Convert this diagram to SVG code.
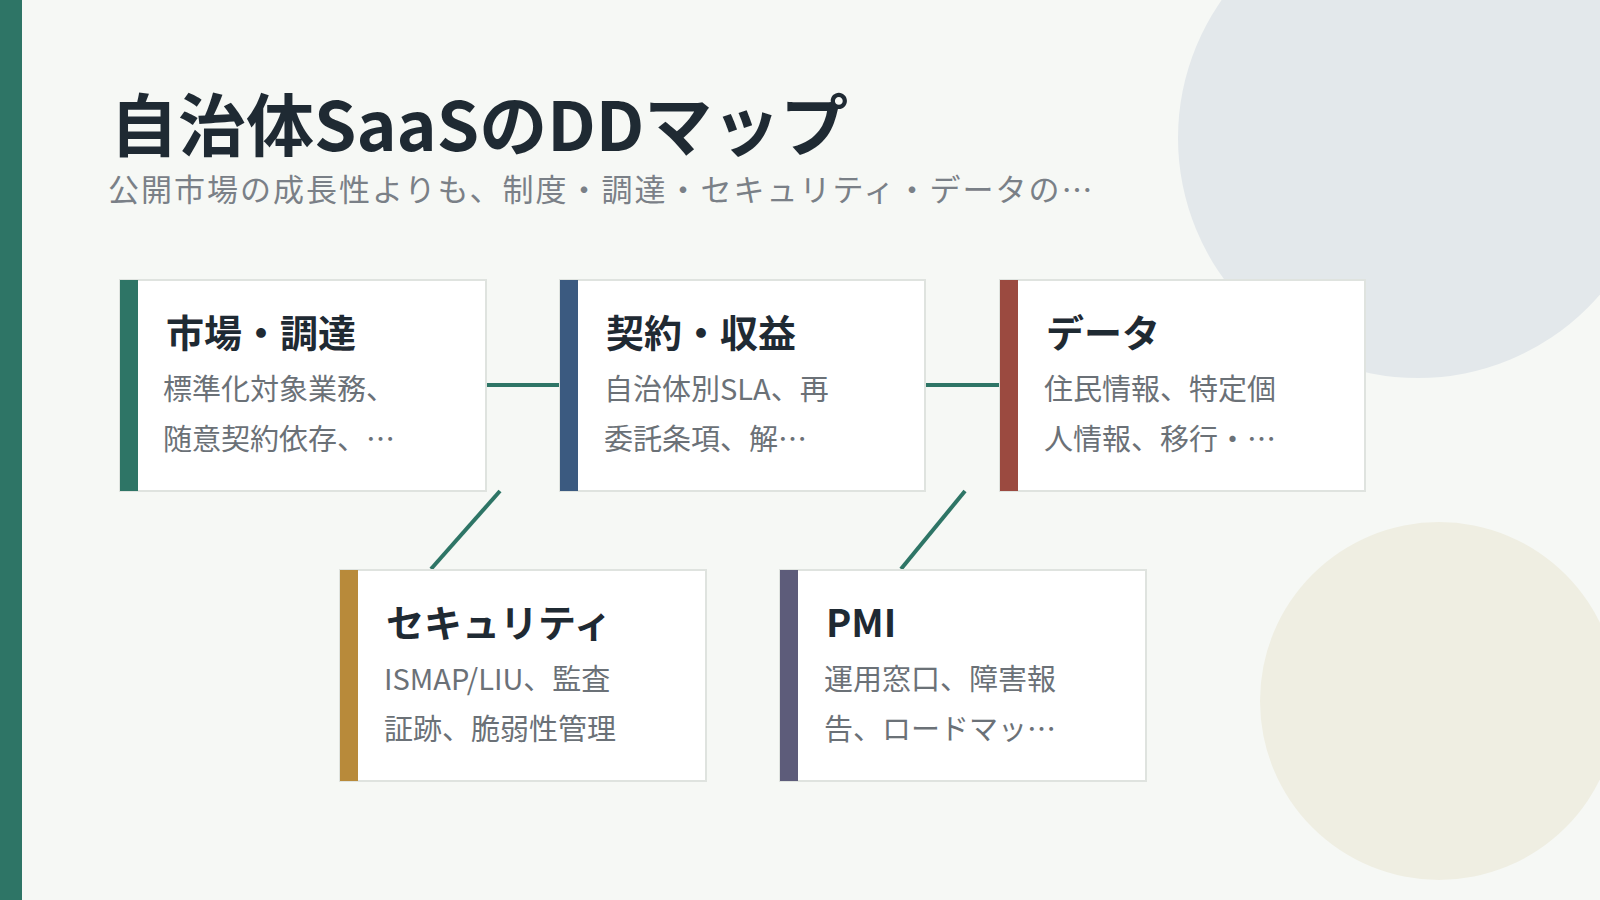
<svg xmlns="http://www.w3.org/2000/svg" width="1600" height="900" viewBox="0 0 1600 900">
<style>
.card{fill:#fff;stroke:#dfe3df;stroke-width:2}
.h{font-family:"Noto Sans CJK JP","Noto Sans",sans-serif;font-weight:700;font-size:38px;fill:#1f2a33}
.b{font-family:"Noto Sans CJK JP","Noto Sans",sans-serif;font-size:29px;fill:#6b7177}
.c{stroke:#2e7566;stroke-width:4;fill:none}
</style>
<rect width="1600" height="900" fill="#f6f8f5"/>
<circle cx="1418" cy="138" r="240" fill="#e3e8eb"/>
<circle cx="1439" cy="701" r="179" fill="#efeee2"/>
<rect x="0" y="0" width="22" height="900" fill="#2e7566"/>
<text x="110" y="151" font-family="'Noto Sans CJK JP','Noto Sans',sans-serif" font-weight="700" font-size="68" fill="#1f2a33">自治体SaaSのDDマップ</text>
<text x="108" y="201" font-family="'Noto Sans CJK JP','Noto Sans',sans-serif" font-size="31" fill="#7a8087" letter-spacing="2">公開市場の成長性よりも、制度・調達・セキュリティ・データの…</text>
<g id="connectors">
<line class="c" x1="486" y1="385" x2="560" y2="385"/>
<line class="c" x1="925" y1="385" x2="1000" y2="385"/>
<line class="c" x1="500" y1="491" x2="431" y2="569"/>
<line class="c" x1="965" y1="491" x2="901" y2="569"/>
</g>
<g id="n1"><rect class="card" x="120" y="280" width="366" height="211"/><rect x="120" y="280" width="18" height="211" fill="#2e7566"/>
<text class="h" x="166" y="347">市場・調達</text><text class="b" x="163" y="400">標準化対象業務、</text><text class="b" x="163" y="450">随意契約依存、…</text></g>
<g id="n2"><rect class="card" x="560" y="280" width="365" height="211"/><rect x="560" y="280" width="18" height="211" fill="#3b5a80"/>
<text class="h" x="606" y="347">契約・収益</text><text class="b" x="604" y="400">自治体別SLA、再</text><text class="b" x="604" y="450">委託条項、解…</text></g>
<g id="n3"><rect class="card" x="1000" y="280" width="365" height="211"/><rect x="1000" y="280" width="18" height="211" fill="#9b4a40"/>
<text class="h" x="1046" y="347">データ</text><text class="b" x="1044" y="400">住民情報、特定個</text><text class="b" x="1044" y="450">人情報、移行・…</text></g>
<g id="n4"><rect class="card" x="340" y="570" width="366" height="211"/><rect x="340" y="570" width="18" height="211" fill="#b88a3a"/>
<text class="h" x="386" y="637">セキュリティ</text><text class="b" x="384" y="690">ISMAP/LIU、監査</text><text class="b" x="384" y="740">証跡、脆弱性管理</text></g>
<g id="n5"><rect class="card" x="780" y="570" width="366" height="211"/><rect x="780" y="570" width="18" height="211" fill="#5d5c7a"/>
<text class="h" x="826" y="637">PMI</text><text class="b" x="824" y="690">運用窓口、障害報</text><text class="b" x="824" y="740">告、ロードマッ…</text></g>
</svg>
